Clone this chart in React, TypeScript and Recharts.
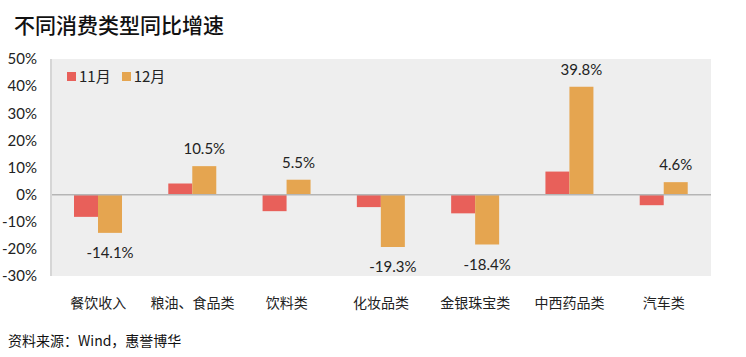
import React from 'react';
import { BarChart, Bar, XAxis, YAxis, ReferenceLine, LabelList, CartesianGrid } from 'recharts';

const categories = ['餐饮收入', '粮油、食品类', '饮料类', '化妆品类', '金银珠宝类', '中西药品类', '汽车类'];
const novValues = [-8.2, 4.1, -6.1, -4.6, -6.9, 8.5, -3.9];
const decValues = [-14.1, 10.5, 5.5, -19.3, -18.4, 39.8, 4.6];
const yTicks = [-30, -20, -10, 0, 10, 20, 30, 40, 50];
const seriesNames = ['11月', '12月'];
const seriesColors = ['#E8605A', '#E5A550'];
const titleText = '不同消费类型同比增速';
const sourceText = '资料来源：Wind，惠誉博华';

const data = categories.map((c, i) => ({ name: c, nov: novValues[i], dec: decValues[i] }));

const NUM_FONT = 'Lato, "Noto Sans CJK SC", sans-serif';
const CJK_FONT = '"Noto Sans CJK SC", sans-serif';

const DecLabel = (props: any) => {
  const { x, y, width, height, value } = props;
  const cx = x + width / 2;
  const top = Math.min(y, y + height);
  const bottom = Math.max(y, y + height);
  const ty = value >= 0 ? top - 18 : bottom + 19;
  return (
    <text x={cx} y={ty} textAnchor="middle" dominantBaseline="central" fontFamily={NUM_FONT} fontSize={15} fill="#222">
      {value.toFixed(1) + '%'}
    </text>
  );
};

const LegendBox = () => (
  <div style={{ position: 'absolute', left: 67, top: 68, display: 'flex', alignItems: 'center', fontFamily: CJK_FONT, fontSize: 15, color: '#222' }}>
    {seriesNames.map((n, i) => (
      <div key={n} style={{ display: 'flex', alignItems: 'center', marginRight: 11 }}>
        <span style={{ display: 'inline-block', width: 9, height: 9, background: seriesColors[i], marginRight: 3 }} />
        <span style={{ lineHeight: '16px' }}>{n}</span>
      </div>
    ))}
  </div>
);

export default function App() {
  return (
    <div style={{ position: 'absolute', left: 0, top: 0, width: 746, height: 357, background: '#fff' }}>
      <div style={{ position: 'absolute', left: 14, top: 10, fontFamily: CJK_FONT, fontSize: 21, fontWeight: 500, color: '#111', lineHeight: '28px' }}>
        {titleText}
      </div>
      <BarChart
        width={746}
        height={357}
        data={data}
        margin={{ top: 59, right: 35, bottom: 51, left: 0 }}
        barGap={0}
      >
        <CartesianGrid horizontal={false} vertical={false} fill="#eeeeee" stroke="none" />
        <XAxis
          dataKey="name"
          height={30}
          axisLine={false}
          tickLine={false}
          tickSize={0}
          tickMargin={22}
          interval={0}
          tick={{ fontFamily: CJK_FONT, fontSize: 14, fill: '#222' }}
        />
        <YAxis
          width={51}
          domain={[-30, 50]}
          ticks={yTicks}
          interval={0}
          tickFormatter={(v: number) => v + '%'}
          axisLine={{ stroke: '#d6d6d6', strokeWidth: 2 }}
          tickLine={false}
          tickSize={0}
          tickMargin={14}
          tick={{ fontFamily: NUM_FONT, fontSize: 15, fill: '#222' }}
        />
        <ReferenceLine y={0} stroke="#b5b5b5" strokeWidth={1.5} />
        <Bar dataKey="nov" name={seriesNames[0]} fill={seriesColors[0]} barSize={24} isAnimationActive={false} />
        <Bar dataKey="dec" name={seriesNames[1]} fill={seriesColors[1]} barSize={24} isAnimationActive={false}>
          <LabelList dataKey="dec" content={<DecLabel />} />
        </Bar>
      </BarChart>
      <LegendBox />
      <div style={{ position: 'absolute', left: 8, top: 330, fontFamily: CJK_FONT, fontSize: 14, color: '#111', lineHeight: '20px' }}>
        {sourceText}
      </div>
    </div>
  );
}
